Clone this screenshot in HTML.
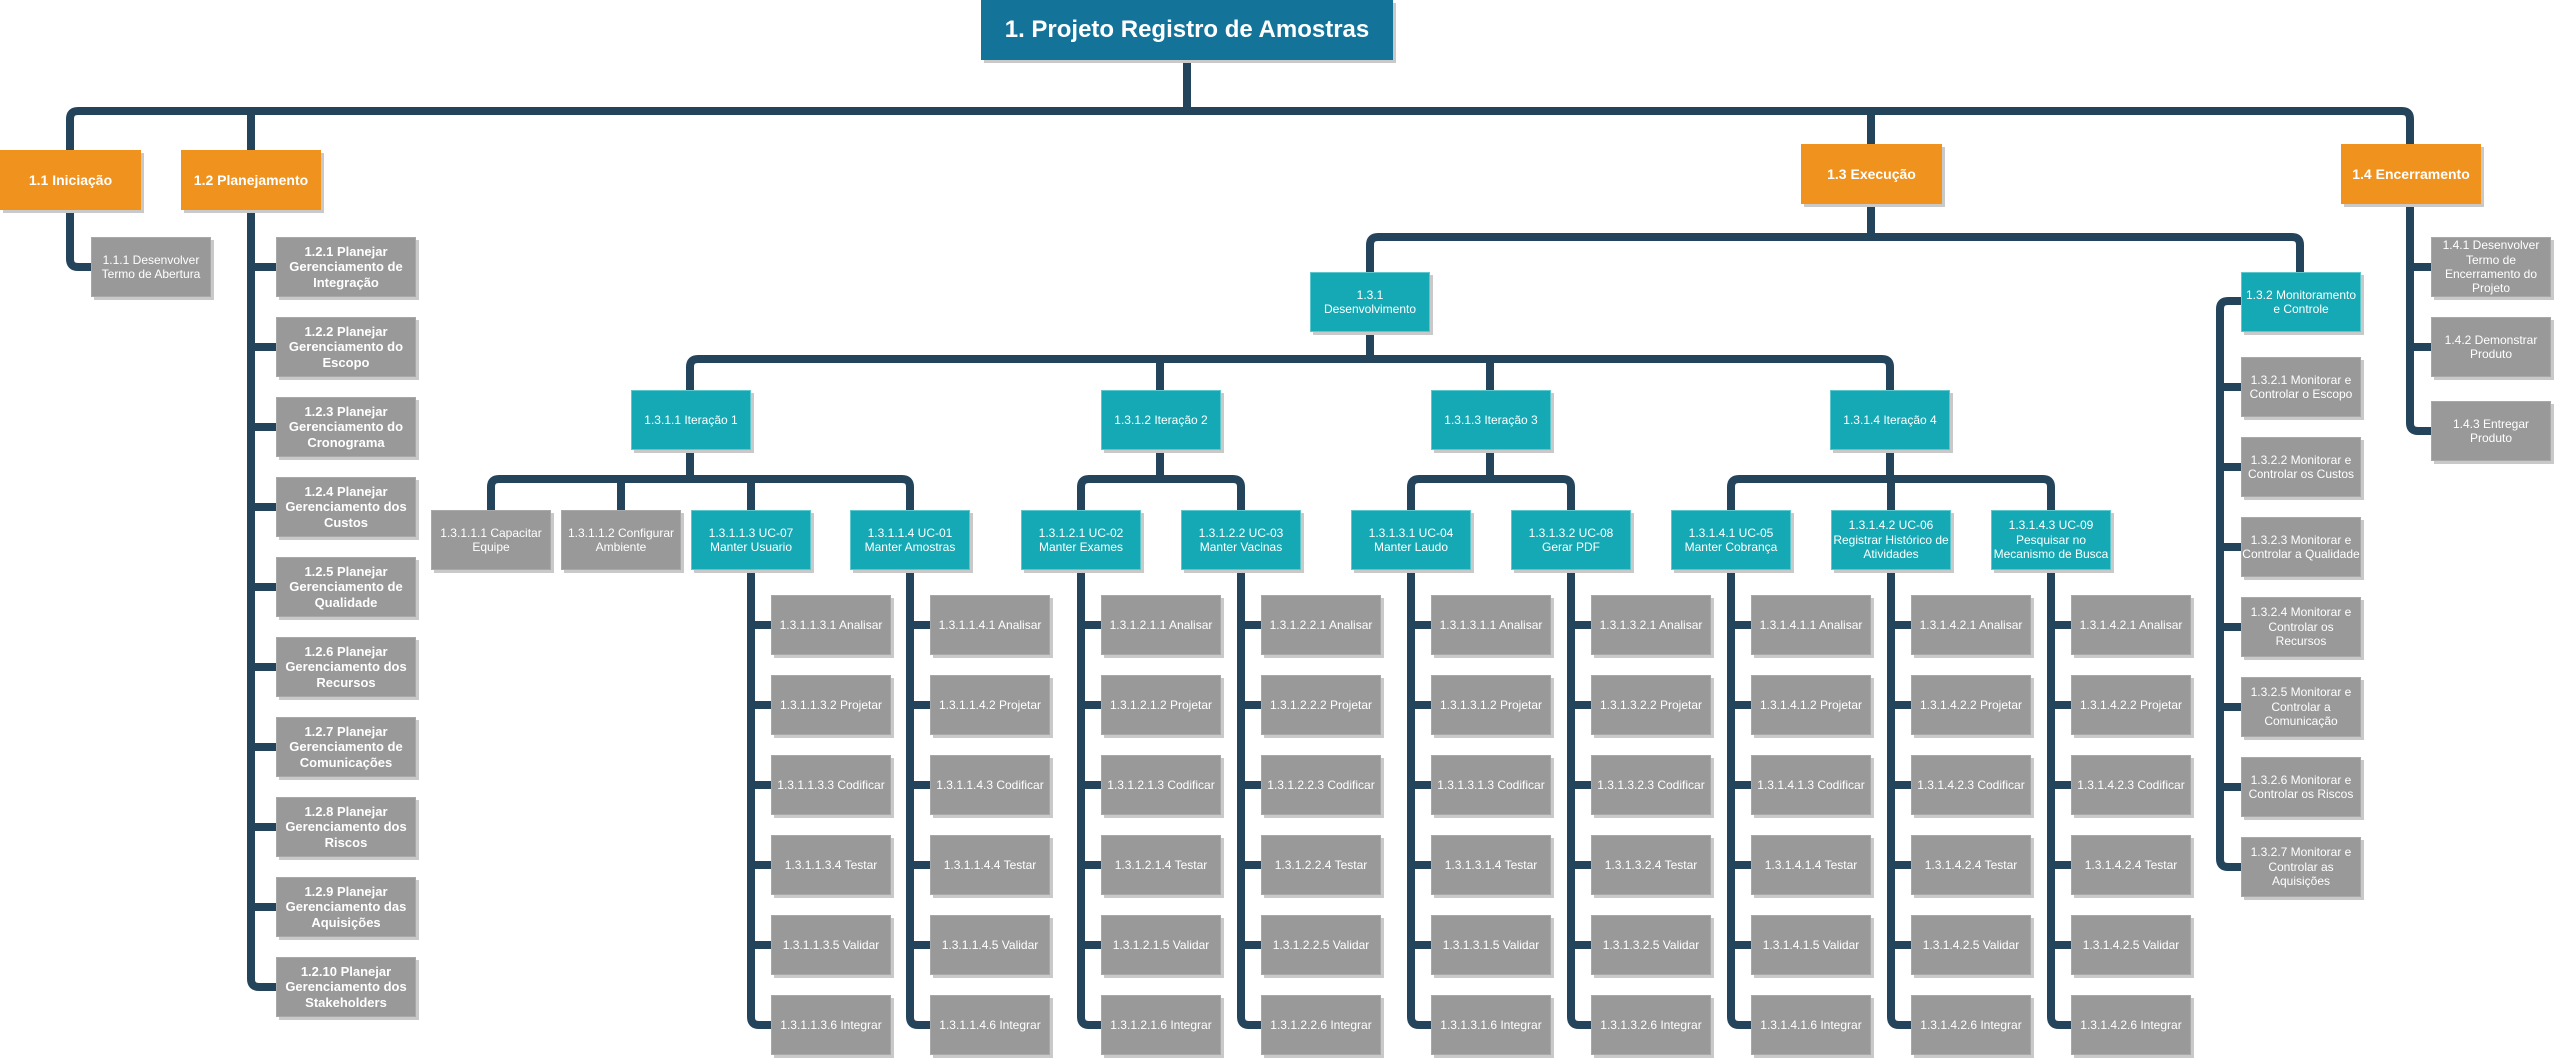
<!DOCTYPE html>
<html><head><meta charset="utf-8"><style>
body{margin:0;width:2554px;height:1061px;background:#fff;position:relative;overflow:hidden;font-family:"Liberation Sans",sans-serif}
svg{position:absolute;left:0;top:0}
.b{position:absolute;display:flex;align-items:center;justify-content:center;text-align:center;color:#fff;box-sizing:border-box;box-shadow:3px 3px 0 #c9c9c9;line-height:1.2}
.t{background:#137399;font-size:24px;font-weight:bold}
.o{background:#f0931e;font-size:14px;font-weight:bold}
.c{background:#14a9b4;font-size:12px;width:120px;height:60px;border:1px solid #5cc7cd}
.g{background:#999;font-size:12px;width:120px;height:60px;border:1px solid #a8a8a8}
.gb{font-weight:bold;font-size:13px;width:140px}
</style></head><body>
<svg width="2554" height="1061" fill="none" stroke="#24445c" stroke-width="8" stroke-linejoin="round">
<path d="M1187,60V111"/>
<path d="M70,150V119Q70,111 78,111H2402Q2410,111 2410,119V144"/>
<path d="M251,111V150M1871,111V144"/>
<path d="M70,210V259Q70,267 78,267H91"/>
<path d="M251,210V979Q251,987 259,987H276"/>
<path d="M251,267H276M251,347H276M251,427H276M251,507H276M251,587H276M251,667H276M251,747H276M251,827H276M251,907H276"/>
<path d="M1871,204V237"/>
<path d="M1370,272V245Q1370,237 1378,237H2292Q2300,237 2300,245V272"/>
<path d="M1370,331V359"/>
<path d="M690,390V367Q690,359 698,359H1882Q1890,359 1890,367V390"/>
<path d="M1160,359V390M1490,359V390"/>
<path d="M690,450V479M1160,450V479M1490,450V479M1890,450V479"/>
<path d="M491,510V487Q491,479 499,479H902Q910,479 910,487V510M621,479V510M751,479V510"/>
<path d="M1081,510V487Q1081,479 1089,479H1233Q1241,479 1241,487V510"/>
<path d="M1411,510V487Q1411,479 1419,479H1563Q1571,479 1571,487V510"/>
<path d="M1731,510V487Q1731,479 1739,479H2043Q2051,479 2051,487V510M1891,479V510"/>
<path d="M751,570V1017Q751,1025 759,1025H771M751,625H771M751,705H771M751,785H771M751,865H771M751,945H771"/>
<path d="M910,570V1017Q910,1025 918,1025H930M910,625H930M910,705H930M910,785H930M910,865H930M910,945H930"/>
<path d="M1081,570V1017Q1081,1025 1089,1025H1101M1081,625H1101M1081,705H1101M1081,785H1101M1081,865H1101M1081,945H1101"/>
<path d="M1241,570V1017Q1241,1025 1249,1025H1261M1241,625H1261M1241,705H1261M1241,785H1261M1241,865H1261M1241,945H1261"/>
<path d="M1411,570V1017Q1411,1025 1419,1025H1431M1411,625H1431M1411,705H1431M1411,785H1431M1411,865H1431M1411,945H1431"/>
<path d="M1571,570V1017Q1571,1025 1579,1025H1591M1571,625H1591M1571,705H1591M1571,785H1591M1571,865H1591M1571,945H1591"/>
<path d="M1731,570V1017Q1731,1025 1739,1025H1751M1731,625H1751M1731,705H1751M1731,785H1751M1731,865H1751M1731,945H1751"/>
<path d="M1891,570V1017Q1891,1025 1899,1025H1911M1891,625H1911M1891,705H1911M1891,785H1911M1891,865H1911M1891,945H1911"/>
<path d="M2051,570V1017Q2051,1025 2059,1025H2071M2051,625H2071M2051,705H2071M2051,785H2071M2051,865H2071M2051,945H2071"/>
<path d="M2241,301H2228Q2220,301 2220,309V859Q2220,867 2228,867H2241M2220,387H2241M2220,467H2241M2220,547H2241M2220,627H2241M2220,707H2241M2220,787H2241"/>
<path d="M2410,204V423Q2410,431 2418,431H2431M2410,267H2431M2410,347H2431"/>
</svg>

<div class="b t" style="left:981px;top:0;width:412px;height:60px">1. Projeto Registro de Amostras</div>
<div class="b o" style="left:0;top:150px;width:141px;height:60px">1.1 Iniciação</div>
<div class="b o" style="left:181px;top:150px;width:140px;height:60px">1.2 Planejamento</div>
<div class="b o" style="left:1801px;top:144px;width:141px;height:60px">1.3 Execução</div>
<div class="b o" style="left:2341px;top:144px;width:140px;height:60px">1.4 Encerramento</div>

<div class="b g" style="left:91px;top:237px">1.1.1 Desenvolver Termo de Abertura</div>

<div class="b g gb" style="left:276px;top:237px">1.2.1 Planejar Gerenciamento de Integração</div>
<div class="b g gb" style="left:276px;top:317px">1.2.2 Planejar Gerenciamento do Escopo</div>
<div class="b g gb" style="left:276px;top:397px">1.2.3 Planejar Gerenciamento do Cronograma</div>
<div class="b g gb" style="left:276px;top:477px">1.2.4 Planejar Gerenciamento dos Custos</div>
<div class="b g gb" style="left:276px;top:557px">1.2.5 Planejar Gerenciamento de Qualidade</div>
<div class="b g gb" style="left:276px;top:637px">1.2.6 Planejar Gerenciamento dos Recursos</div>
<div class="b g gb" style="left:276px;top:717px">1.2.7 Planejar Gerenciamento de Comunicações</div>
<div class="b g gb" style="left:276px;top:797px">1.2.8 Planejar Gerenciamento dos Riscos</div>
<div class="b g gb" style="left:276px;top:877px">1.2.9 Planejar Gerenciamento das Aquisições</div>
<div class="b g gb" style="left:276px;top:957px">1.2.10 Planejar Gerenciamento dos Stakeholders</div>

<div class="b c" style="left:1310px;top:272px">1.3.1<br>Desenvolvimento</div>
<div class="b c" style="left:2241px;top:272px">1.3.2 Monitoramento e Controle</div>

<div class="b c" style="left:631px;top:390px">1.3.1.1 Iteração 1</div>
<div class="b c" style="left:1101px;top:390px">1.3.1.2 Iteração 2</div>
<div class="b c" style="left:1431px;top:390px">1.3.1.3 Iteração 3</div>
<div class="b c" style="left:1830px;top:390px">1.3.1.4 Iteração 4</div>

<div class="b g" style="left:431px;top:510px">1.3.1.1.1 Capacitar Equipe</div>
<div class="b g" style="left:561px;top:510px">1.3.1.1.2 Configurar Ambiente</div>
<div class="b c" style="left:691px;top:510px">1.3.1.1.3 UC-07<br>Manter Usuario</div>
<div class="b c" style="left:850px;top:510px">1.3.1.1.4 UC-01<br>Manter Amostras</div>
<div class="b c" style="left:1021px;top:510px">1.3.1.2.1 UC-02<br>Manter Exames</div>
<div class="b c" style="left:1181px;top:510px">1.3.1.2.2 UC-03<br>Manter Vacinas</div>
<div class="b c" style="left:1351px;top:510px">1.3.1.3.1 UC-04<br>Manter Laudo</div>
<div class="b c" style="left:1511px;top:510px">1.3.1.3.2 UC-08<br>Gerar PDF</div>
<div class="b c" style="left:1671px;top:510px">1.3.1.4.1 UC-05<br>Manter Cobrança</div>
<div class="b c" style="left:1831px;top:510px">1.3.1.4.2 UC-06 Registrar Histórico de Atividades</div>
<div class="b c" style="left:1991px;top:510px">1.3.1.4.3 UC-09 Pesquisar no Mecanismo de Busca</div>

<div class="b g" style="left:771px;top:595px">1.3.1.1.3.1 Analisar</div>
<div class="b g" style="left:771px;top:675px">1.3.1.1.3.2 Projetar</div>
<div class="b g" style="left:771px;top:755px">1.3.1.1.3.3 Codificar</div>
<div class="b g" style="left:771px;top:835px">1.3.1.1.3.4 Testar</div>
<div class="b g" style="left:771px;top:915px">1.3.1.1.3.5 Validar</div>
<div class="b g" style="left:771px;top:995px">1.3.1.1.3.6 Integrar</div>

<div class="b g" style="left:930px;top:595px">1.3.1.1.4.1 Analisar</div>
<div class="b g" style="left:930px;top:675px">1.3.1.1.4.2 Projetar</div>
<div class="b g" style="left:930px;top:755px">1.3.1.1.4.3 Codificar</div>
<div class="b g" style="left:930px;top:835px">1.3.1.1.4.4 Testar</div>
<div class="b g" style="left:930px;top:915px">1.3.1.1.4.5 Validar</div>
<div class="b g" style="left:930px;top:995px">1.3.1.1.4.6 Integrar</div>

<div class="b g" style="left:1101px;top:595px">1.3.1.2.1.1 Analisar</div>
<div class="b g" style="left:1101px;top:675px">1.3.1.2.1.2 Projetar</div>
<div class="b g" style="left:1101px;top:755px">1.3.1.2.1.3 Codificar</div>
<div class="b g" style="left:1101px;top:835px">1.3.1.2.1.4 Testar</div>
<div class="b g" style="left:1101px;top:915px">1.3.1.2.1.5 Validar</div>
<div class="b g" style="left:1101px;top:995px">1.3.1.2.1.6 Integrar</div>

<div class="b g" style="left:1261px;top:595px">1.3.1.2.2.1 Analisar</div>
<div class="b g" style="left:1261px;top:675px">1.3.1.2.2.2 Projetar</div>
<div class="b g" style="left:1261px;top:755px">1.3.1.2.2.3 Codificar</div>
<div class="b g" style="left:1261px;top:835px">1.3.1.2.2.4 Testar</div>
<div class="b g" style="left:1261px;top:915px">1.3.1.2.2.5 Validar</div>
<div class="b g" style="left:1261px;top:995px">1.3.1.2.2.6 Integrar</div>

<div class="b g" style="left:1431px;top:595px">1.3.1.3.1.1 Analisar</div>
<div class="b g" style="left:1431px;top:675px">1.3.1.3.1.2 Projetar</div>
<div class="b g" style="left:1431px;top:755px">1.3.1.3.1.3 Codificar</div>
<div class="b g" style="left:1431px;top:835px">1.3.1.3.1.4 Testar</div>
<div class="b g" style="left:1431px;top:915px">1.3.1.3.1.5 Validar</div>
<div class="b g" style="left:1431px;top:995px">1.3.1.3.1.6 Integrar</div>

<div class="b g" style="left:1591px;top:595px">1.3.1.3.2.1 Analisar</div>
<div class="b g" style="left:1591px;top:675px">1.3.1.3.2.2 Projetar</div>
<div class="b g" style="left:1591px;top:755px">1.3.1.3.2.3 Codificar</div>
<div class="b g" style="left:1591px;top:835px">1.3.1.3.2.4 Testar</div>
<div class="b g" style="left:1591px;top:915px">1.3.1.3.2.5 Validar</div>
<div class="b g" style="left:1591px;top:995px">1.3.1.3.2.6 Integrar</div>

<div class="b g" style="left:1751px;top:595px">1.3.1.4.1.1 Analisar</div>
<div class="b g" style="left:1751px;top:675px">1.3.1.4.1.2 Projetar</div>
<div class="b g" style="left:1751px;top:755px">1.3.1.4.1.3 Codificar</div>
<div class="b g" style="left:1751px;top:835px">1.3.1.4.1.4 Testar</div>
<div class="b g" style="left:1751px;top:915px">1.3.1.4.1.5 Validar</div>
<div class="b g" style="left:1751px;top:995px">1.3.1.4.1.6 Integrar</div>

<div class="b g" style="left:1911px;top:595px">1.3.1.4.2.1 Analisar</div>
<div class="b g" style="left:1911px;top:675px">1.3.1.4.2.2 Projetar</div>
<div class="b g" style="left:1911px;top:755px">1.3.1.4.2.3 Codificar</div>
<div class="b g" style="left:1911px;top:835px">1.3.1.4.2.4 Testar</div>
<div class="b g" style="left:1911px;top:915px">1.3.1.4.2.5 Validar</div>
<div class="b g" style="left:1911px;top:995px">1.3.1.4.2.6 Integrar</div>

<div class="b g" style="left:2071px;top:595px">1.3.1.4.2.1 Analisar</div>
<div class="b g" style="left:2071px;top:675px">1.3.1.4.2.2 Projetar</div>
<div class="b g" style="left:2071px;top:755px">1.3.1.4.2.3 Codificar</div>
<div class="b g" style="left:2071px;top:835px">1.3.1.4.2.4 Testar</div>
<div class="b g" style="left:2071px;top:915px">1.3.1.4.2.5 Validar</div>
<div class="b g" style="left:2071px;top:995px">1.3.1.4.2.6 Integrar</div>

<div class="b g" style="left:2241px;top:357px">1.3.2.1 Monitorar e Controlar o Escopo</div>
<div class="b g" style="left:2241px;top:437px">1.3.2.2 Monitorar e Controlar os Custos</div>
<div class="b g" style="left:2241px;top:517px">1.3.2.3 Monitorar e Controlar a Qualidade</div>
<div class="b g" style="left:2241px;top:597px">1.3.2.4 Monitorar e Controlar os Recursos</div>
<div class="b g" style="left:2241px;top:677px">1.3.2.5 Monitorar e Controlar a Comunicação</div>
<div class="b g" style="left:2241px;top:757px">1.3.2.6 Monitorar e Controlar os Riscos</div>
<div class="b g" style="left:2241px;top:837px">1.3.2.7 Monitorar e Controlar as Aquisições</div>

<div class="b g" style="left:2431px;top:237px">1.4.1 Desenvolver Termo de Encerramento do Projeto</div>
<div class="b g" style="left:2431px;top:317px">1.4.2 Demonstrar Produto</div>
<div class="b g" style="left:2431px;top:401px">1.4.3 Entregar Produto</div>
</body></html>
